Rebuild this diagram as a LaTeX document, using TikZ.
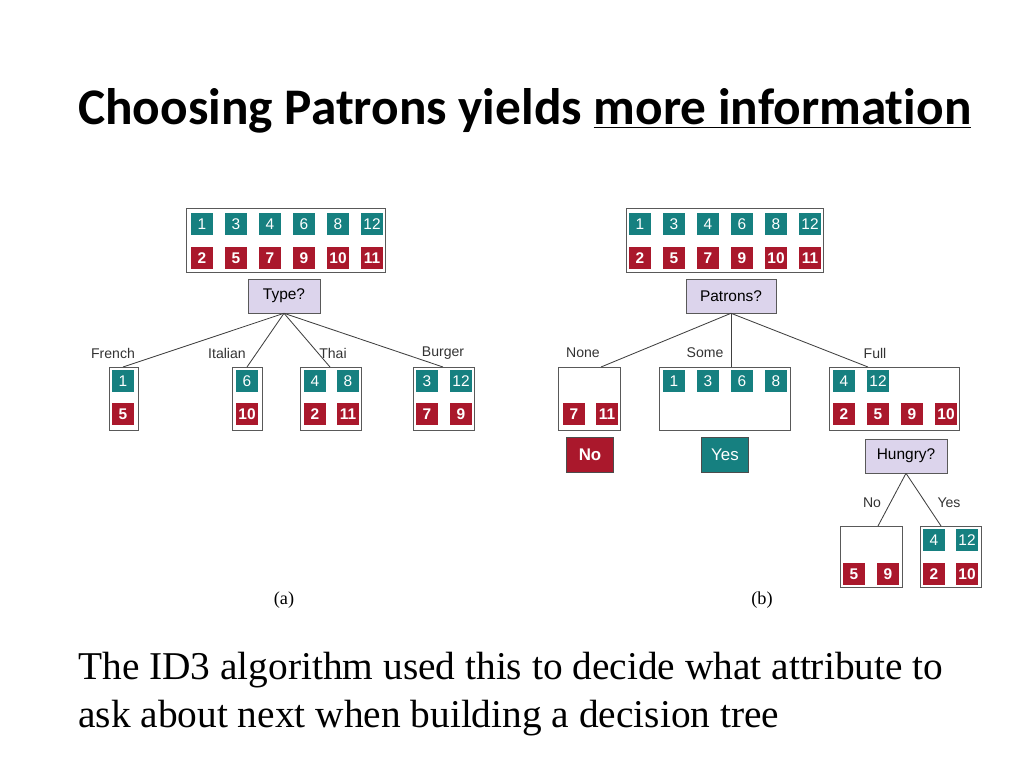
\documentclass[tikz,border=0pt]{standalone}
\usepackage{fontspec}
\setmainfont{Liberation Serif}
\setsansfont{Liberation Sans}
\newfontfamily\titlefont[Ligatures=NoCommon]{Carlito}
\usetikzlibrary{positioning}
\definecolor{posc}{RGB}{22,128,128}
\definecolor{negc}{RGB}{170,24,44}
\definecolor{attc}{RGB}{220,212,236}
\tikzset{
  posbox/.style={fill=posc,text=white,minimum size=0.55cm,inner sep=0pt,font=\sffamily\fontsize{11}{11}\selectfont},
  negbox/.style={fill=negc,text=white,minimum size=0.55cm,inner sep=0pt,font=\sffamily\bfseries\fontsize{11}{11}\selectfont},
  frame/.style={draw=gray!70!black,line width=0.5pt,fill=white},
  att/.style={draw=gray!70!black,fill=attc,minimum height=0.85cm,inner sep=2pt,font=\sffamily\fontsize{11}{11}\selectfont},
  lbl/.style={font=\sffamily\fontsize{10}{10}\selectfont,text=black!80},
  conn/.style={draw=black!75,line width=0.6pt}
}
\begin{document}
\begin{tikzpicture}[x=0.025cm,y=-0.025cm]
\useasboundingbox (0,0) rectangle (1024,768);

\node[font=\titlefont\bfseries\fontsize{36.5}{36.5}\selectfont,anchor=base west,inner sep=0pt] (title) at (78,125) {Choosing Patrons yields \underline{more information}};

% tree (a)
\draw[frame] (186,208) rectangle (385,272);
\foreach \n [count=\i from 0] in {1,3,4,6,8,12}
  \node[posbox] (at\n) at ({202+34*\i},224) {\n};
\foreach \n [count=\i from 0] in {2,5,7,9,10,11}
  \node[negbox] (an\n) at ({202+34*\i},258) {\n};
\node[att,minimum width=1.8cm] (type) at (284,296) {Type?};

\coordinate (fr) at (123,367);
\coordinate (it) at (247,367);
\coordinate (th) at (330,367);
\coordinate (bu) at (443,367);
\foreach \c in {fr,it,th,bu}
  \draw[conn] (type.south) -- (\c);
\node[lbl] (lfr) at (113,353) {French};
\node[lbl] (lit) at (227,353) {Italian};
\node[lbl] (lth) at (333,353) {Thai};
\node[lbl] (lbu) at (443,353) {Burger};

\draw[frame] (109,367) rectangle (138,430);
\draw[frame] (232,367) rectangle (262,430);
\draw[frame] (300,367) rectangle (361,430);
\draw[frame] (413,367) rectangle (474,430);
\node[posbox] (f1) at (123,381) {1};
\node[negbox] (f5) at (123,414) {5};
\node[posbox] (i6) at (247,381) {6};
\node[negbox] (i10) at (247,414) {10};
\node[posbox] (t4) at (315,381) {4};
\node[posbox] (t8) at (348,381) {8};
\node[negbox] (t2) at (315,414) {2};
\node[negbox] (t11) at (348,414) {11};
\node[posbox] (b3) at (427,381) {3};
\node[posbox] (b12) at (461,381) {12};
\node[negbox] (b7) at (427,414) {7};
\node[negbox] (b9) at (461,414) {9};

% tree (b)
\draw[frame] (626,208) rectangle (823,272);
\foreach \n [count=\i from 0] in {1,3,4,6,8,12}
  \node[posbox] (bt\n) at ({640+34*\i},224) {\n};
\foreach \n [count=\i from 0] in {2,5,7,9,10,11}
  \node[negbox] (bn\n) at ({640+34*\i},258) {\n};
\node[att,minimum width=2.25cm] (patrons) at (731,296) {Patrons?};

\coordinate (no) at (601,367);
\coordinate (so) at (731,367);
\coordinate (fu) at (868,367);
\foreach \c in {no,so,fu}
  \draw[conn] (patrons.south) -- (\c);
\node[lbl] (lno) at (583,353) {None};
\node[lbl] (lso) at (705,353) {Some};
\node[lbl] (lfu) at (875,353) {Full};

\draw[frame] (558,367) rectangle (620,430);
\draw[frame] (659,367) rectangle (790,430);
\draw[frame] (829,367) rectangle (959,430);
\node[negbox] (n7) at (574,414) {7};
\node[negbox] (n11) at (607,414) {11};
\foreach \n [count=\i from 0] in {1,3,6,8}
  \node[posbox] (s\n) at ({674+34*\i},381) {\n};
\node[posbox] (u4) at (844,381) {4};
\node[posbox] (u12) at (878,381) {12};
\foreach \n [count=\i from 0] in {2,5,9,10}
  \node[negbox] (u\n) at ({844+34*\i},414) {\n};

\node[negbox,minimum width=1.18cm,minimum height=0.88cm,draw=gray!60!black,font=\sffamily\bfseries\fontsize{12}{12}\selectfont] (leafno) at (590,455) {No};
\node[posbox,minimum width=1.18cm,minimum height=0.88cm,draw=gray!60!black,font=\sffamily\fontsize{12}{12}\selectfont] (leafyes) at (725,455) {Yes};
\node[att,minimum width=2.05cm] (hungry) at (906,456) {Hungry?};

\coordinate (hn) at (878,526);
\coordinate (hy) at (941,526);
\draw[conn] (hungry.south) -- (hn);
\draw[conn] (hungry.south) -- (hy);
\node[lbl] (lhn) at (872,503) {No};
\node[lbl] (lhy) at (949,503) {Yes};
\draw[frame] (840,526) rectangle (902,587);
\draw[frame] (920,526) rectangle (981,587);
\node[negbox] (h5) at (854,574) {5};
\node[negbox] (h9) at (888,574) {9};
\node[posbox] (h4) at (934,540) {4};
\node[posbox] (h12) at (967,540) {12};
\node[negbox] (h2) at (934,574) {2};
\node[negbox] (h10) at (967,574) {10};

\node[font=\fontsize{13}{13}\selectfont] (capa) at (284,600) {(a)};
\node[font=\fontsize{13}{13}\selectfont] (capb) at (762,600) {(b)};

\node[anchor=base west,inner sep=0pt,font=\fontsize{28}{33.5}\selectfont,align=left] (note) at (78,727)
  {The ID3 algorithm used this to decide what attribute to\\ask about next when building a decision tree};
\end{tikzpicture}
\end{document}
